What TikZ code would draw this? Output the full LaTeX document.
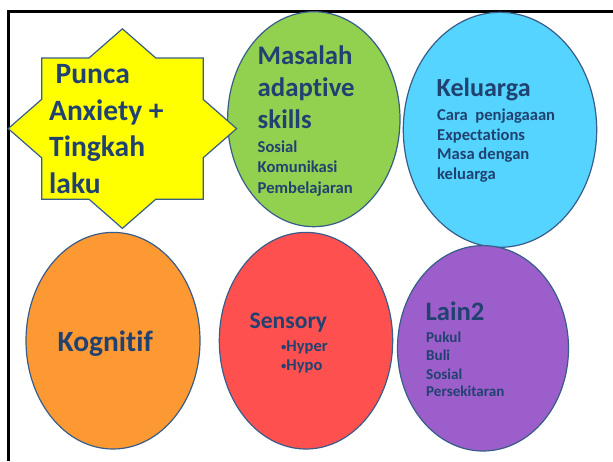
\documentclass[tikz,border=0pt]{standalone}
\usepackage{fontspec}
\setmainfont{Carlito}[Ligatures=NoCommon]
\definecolor{tblue}{RGB}{33,66,112}
\definecolor{edge}{RGB}{56,93,138}
\definecolor{cyellow}{RGB}{255,255,0}
\definecolor{cgreen}{RGB}{146,208,80}
\definecolor{ccyan}{RGB}{85,212,255}
\definecolor{corange}{RGB}{253,153,51}
\definecolor{cred}{RGB}{255,80,80}
\definecolor{cpurple}{RGB}{155,94,202}
\newcommand{\smbullet}{{\fontsize{10.5}{11}\selectfont\raisebox{0.9pt}{•}}}
\tikzset{
  blob/.style={draw=edge, line width=1.2pt},
  txt/.style={anchor=base west, inner sep=0pt, text=tblue},
  fa/.style={font=\fontsize{29.5}{34}\selectfont\bfseries},
  fb/.style={font=\fontsize{26.8}{31}\selectfont\bfseries},
  fs/.style={font=\fontsize{16.6}{19}\selectfont\bfseries},
  fl/.style={font=\fontsize{15.1}{18}\selectfont\bfseries},
}
\begin{document}
\begin{tikzpicture}[x=1pt,y=-1pt]
\useasboundingbox (0,0) rectangle (613,461);
\fill[white] (0,0) rectangle (613,461);
% frame
\draw[black, line width=2.4pt] (8.5,461) -- (8.5,11.5) -- (613,11.5);
% ellipses
\draw[blob, fill=cgreen] (313.8,119.2) ellipse [x radius=86.2, y radius=107.5];
\draw[blob, fill=ccyan] (500,129.8) ellipse [x radius=96.7, y radius=117.5];
\draw[blob, fill=corange] (113,340.7) ellipse [x radius=87, y radius=108.3];
\draw[blob, fill=cred] (306,340.7) ellipse [x radius=86.7, y radius=108.3];
\draw[blob, fill=cpurple] (483,348.3) ellipse [x radius=85.5, y radius=102.7];
% star (stretched octagram)
\draw[blob, fill=cyellow] (122.4,28.8) -- (155.85,58.03) -- (203.15,58.03) -- (203.15,99.37)
  -- (236.6,128.6) -- (203.15,157.83) -- (203.15,199.17) -- (155.85,199.17)
  -- (122.4,228.4) -- (88.95,199.17) -- (41.65,199.17) -- (41.65,157.83)
  -- (8.2,128.6) -- (41.65,99.37) -- (41.65,58.03) -- (88.95,58.03) -- cycle;
% star text
\node[txt, fa] (p1) at (55.5,83.3) {Punca};
\node[txt, fa] (p2) at (49,120) {Anxiety +};
\node[txt, fa] (p3) at (49,156.7) {Tingkah};
\node[txt, fa] (p4) at (49,193.3) {laku};
% green text
\node[txt, fb] (m1) at (257.5,64) {Masalah};
\node[txt, fb] (m2) at (257.5,96.7) {adaptive};
\node[txt, fb] (m3) at (257.5,128.3) {skills};
\node[txt, fs] (m4) at (257.5,152.7) {Sosial};
\node[txt, fs] (m5) at (257.5,172.7) {Komunikasi};
\node[txt, fs] (m6) at (257.5,193.3) {Pembelajaran};
% cyan text
\node[txt, font=\fontsize{26.1}{30}\selectfont\bfseries] (k1) at (436.5,96.7) {Keluarga};
\node[txt, fs] (k2) at (437,120.7) {Cara\ \ penjagaaan};
\node[txt, fs] (k3) at (437,140) {Expectations};
\node[txt, fs] (k4) at (437,159.3) {Masa dengan};
\node[txt, fs] (k5) at (437,179.3) {keluarga};
% orange text
\node[txt, font=\fontsize{29.4}{34}\selectfont\bfseries] (g1) at (57.5,351) {Kognitif};
% red text
\node[txt, font=\fontsize{23.6}{28}\selectfont\bfseries] (s1) at (249.5,328.3) {Sensory};
\node[txt, font=\fontsize{16.5}{19}\selectfont\bfseries] (s2) at (281,351) {\smbullet Hyper};
\node[txt, font=\fontsize{16.5}{19}\selectfont\bfseries] (s3) at (281,370.7) {\smbullet Hypo};
% purple text
\node[txt, font=\fontsize{26.6}{31}\selectfont\bfseries] (l1) at (425.5,320) {Lain2};
\node[txt, fl] (l2) at (426,342.3) {Pukul};
\node[txt, fl] (l3) at (426,360) {Buli};
\node[txt, fl] (l4) at (426,379) {Sosial};
\node[txt, fl] (l5) at (426,396.7) {Persekitaran};
\end{tikzpicture}
\end{document}
